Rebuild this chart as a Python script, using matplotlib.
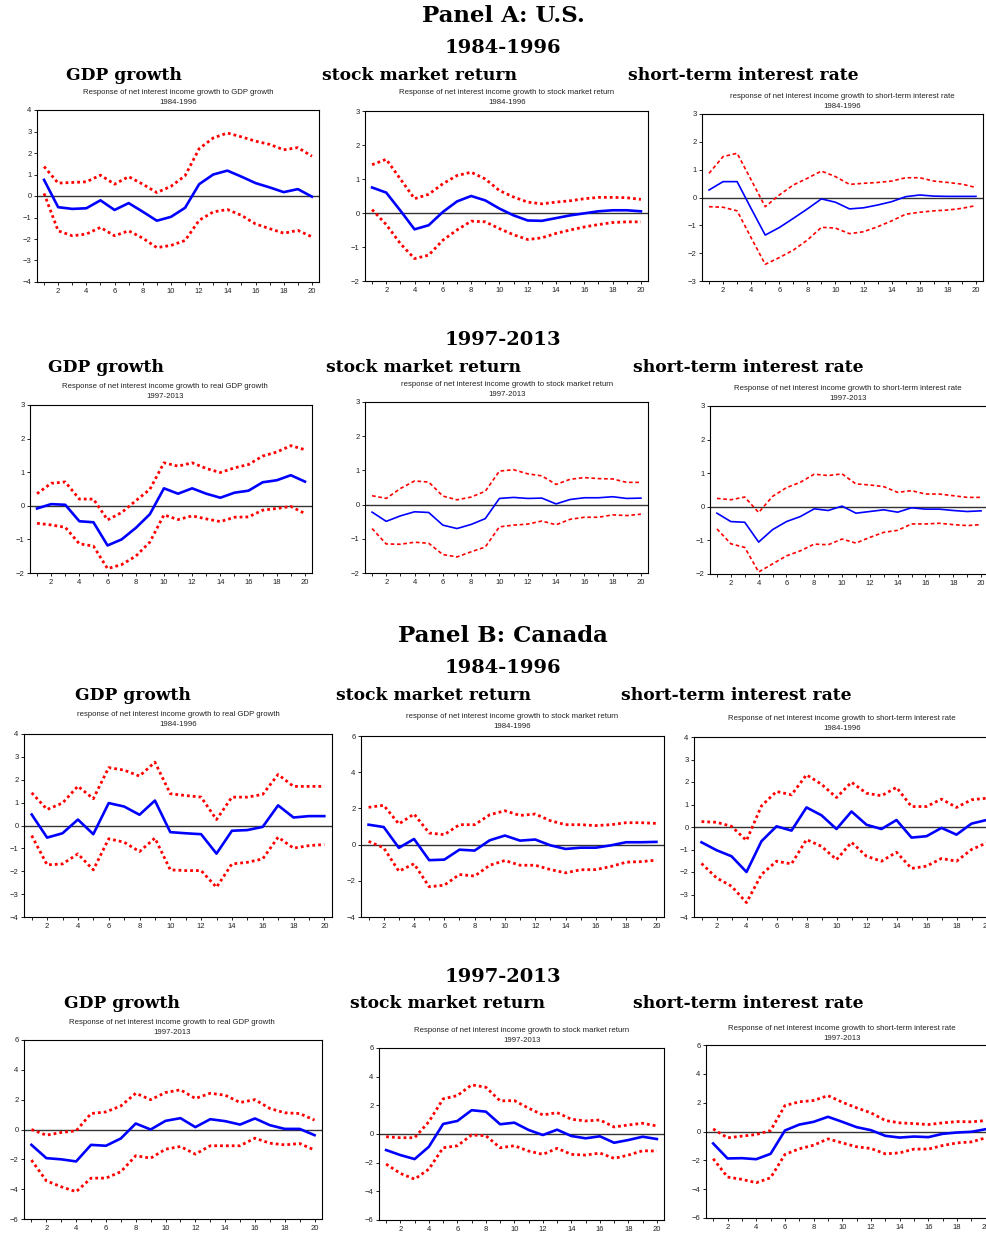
import matplotlib
matplotlib.use('Agg')
import numpy as np
from matplotlib import pyplot as plt
from matplotlib.ticker import MultipleLocator, FixedLocator

W, H = 986, 1233
horizon = list(range(1, 21))

# --- Panel A: U.S. 1984-1996
us84_gdp = [0.75, -0.52, -0.60, -0.57, -0.20, -0.65, -0.33, -0.73, -1.15, -0.97,
            -0.55, 0.55, 1.00, 1.18, 0.90, 0.60, 0.40, 0.18, 0.32, -0.03]
us84_gdp_hi = [1.37, 0.60, 0.63, 0.66, 0.97, 0.55, 0.90, 0.55, 0.16, 0.45,
               0.94, 2.20, 2.70, 2.93, 2.75, 2.55, 2.40, 2.15, 2.25, 1.85]
us84_gdp_lo = [0.12, -1.62, -1.85, -1.77, -1.46, -1.85, -1.62, -1.96, -2.40, -2.30,
               -2.07, -1.13, -0.74, -0.63, -0.90, -1.30, -1.52, -1.73, -1.60, -1.90]

us84_stk = [0.75, 0.60, 0.07, -0.48, -0.36, 0.03, 0.34, 0.50, 0.37, 0.13,
            -0.07, -0.22, -0.23, -0.15, -0.07, -0.01, 0.05, 0.08, 0.08, 0.05]
us84_stk_hi = [1.42, 1.58, 1.00, 0.42, 0.55, 0.86, 1.10, 1.20, 1.00, 0.66,
               0.47, 0.32, 0.27, 0.32, 0.36, 0.42, 0.46, 0.46, 0.45, 0.40]
us84_stk_lo = [0.10, -0.34, -0.90, -1.34, -1.24, -0.80, -0.50, -0.24, -0.26, -0.46,
               -0.64, -0.78, -0.73, -0.60, -0.50, -0.41, -0.34, -0.28, -0.26, -0.26]

us84_rate = [0.27, 0.57, 0.57, -0.40, -1.35, -1.08, -0.75, -0.41, -0.05, -0.17,
             -0.41, -0.37, -0.27, -0.15, 0.03, 0.09, 0.05, 0.04, 0.04, 0.04]
us84_rate_hi = [0.87, 1.47, 1.59, 0.63, -0.33, 0.09, 0.45, 0.69, 0.95, 0.75,
                0.47, 0.51, 0.54, 0.59, 0.71, 0.71, 0.59, 0.54, 0.48, 0.36]
us84_rate_lo = [-0.33, -0.35, -0.48, -1.45, -2.40, -2.16, -1.89, -1.53, -1.07, -1.10,
                -1.30, -1.23, -1.05, -0.84, -0.60, -0.53, -0.48, -0.45, -0.39, -0.29]

# --- Panel A: U.S. 1997-2013
us97_gdp = [-0.08, 0.05, 0.03, -0.46, -0.49, -1.18, -1.00, -0.66, -0.25, 0.52,
            0.36, 0.52, 0.36, 0.24, 0.39, 0.45, 0.70, 0.76, 0.91, 0.72]
us97_gdp_hi = [0.36, 0.67, 0.71, 0.20, 0.20, -0.42, -0.20, 0.15, 0.49, 1.28,
               1.18, 1.28, 1.11, 0.99, 1.13, 1.23, 1.48, 1.60, 1.79, 1.67]
us97_gdp_lo = [-0.52, -0.57, -0.64, -1.13, -1.20, -1.87, -1.75, -1.50, -1.08, -0.27,
               -0.41, -0.30, -0.39, -0.47, -0.34, -0.33, -0.13, -0.08, -0.02, -0.23]

us97_stk = [-0.22, -0.49, -0.33, -0.21, -0.23, -0.60, -0.70, -0.58, -0.41, 0.18,
            0.21, 0.18, 0.19, 0.02, 0.15, 0.20, 0.20, 0.23, 0.18, 0.19]
us97_stk_hi = [0.26, 0.18, 0.47, 0.69, 0.66, 0.25, 0.14, 0.22, 0.39, 0.98,
               1.02, 0.90, 0.84, 0.59, 0.74, 0.79, 0.76, 0.75, 0.65, 0.65]
us97_stk_lo = [-0.70, -1.15, -1.16, -1.10, -1.13, -1.46, -1.53, -1.38, -1.24, -0.65,
               -0.60, -0.57, -0.48, -0.59, -0.43, -0.37, -0.37, -0.30, -0.32, -0.28]

us97_rate = [-0.19, -0.44, -0.46, -1.05, -0.68, -0.44, -0.29, -0.06, -0.11, 0.02,
             -0.19, -0.14, -0.09, -0.16, -0.03, -0.07, -0.07, -0.11, -0.14, -0.12]
us97_rate_hi = [0.25, 0.21, 0.29, -0.17, 0.31, 0.57, 0.73, 0.97, 0.93, 0.98,
                0.68, 0.65, 0.60, 0.43, 0.48, 0.38, 0.38, 0.33, 0.28, 0.28]
us97_rate_lo = [-0.66, -1.10, -1.21, -1.94, -1.70, -1.46, -1.31, -1.11, -1.13, -0.96,
                -1.08, -0.91, -0.76, -0.70, -0.51, -0.51, -0.49, -0.53, -0.56, -0.53]

# --- Panel B: Canada 1984-1996
ca84_gdp = [0.48, -0.53, -0.34, 0.26, -0.38, 0.98, 0.83, 0.47, 1.09, -0.29,
            -0.34, -0.38, -1.23, -0.23, -0.20, -0.06, 0.88, 0.35, 0.41, 0.41]
ca84_gdp_hi = [1.43, 0.70, 0.98, 1.72, 1.17, 2.53, 2.42, 2.16, 2.77, 1.39,
               1.31, 1.24, 0.26, 1.24, 1.24, 1.36, 2.23, 1.71, 1.71, 1.71]
ca84_gdp_lo = [-0.44, -1.72, -1.68, -1.24, -1.94, -0.58, -0.73, -1.14, -0.55, -1.94,
               -1.97, -1.97, -2.70, -1.68, -1.61, -1.46, -0.51, -0.99, -0.88, -0.83]

ca84_stk = [1.10, 0.97, -0.18, 0.31, -0.86, -0.83, -0.28, -0.33, 0.24, 0.50,
            0.22, 0.28, -0.04, -0.24, -0.17, -0.17, -0.04, 0.13, 0.13, 0.15]
ca84_stk_hi = [2.06, 2.17, 1.14, 1.69, 0.64, 0.55, 1.10, 1.10, 1.65, 1.87,
               1.61, 1.69, 1.32, 1.10, 1.10, 1.05, 1.10, 1.21, 1.21, 1.17]
ca84_stk_lo = [0.18, -0.18, -1.47, -1.06, -2.33, -2.24, -1.65, -1.74, -1.14, -0.88,
               -1.14, -1.14, -1.38, -1.56, -1.39, -1.38, -1.21, -0.97, -0.94, -0.86]

ca84_rate = [-0.68, -1.03, -1.30, -2.00, -0.63, 0.03, -0.16, 0.87, 0.52, -0.09,
             0.69, 0.10, -0.09, 0.31, -0.47, -0.41, -0.04, -0.34, 0.15, 0.31]
ca84_rate_hi = [0.24, 0.21, 0.03, -0.60, 0.94, 1.58, 1.43, 2.32, 1.90, 1.31,
                1.99, 1.50, 1.39, 1.76, 0.91, 0.91, 1.24, 0.87, 1.21, 1.28]
ca84_rate_lo = [-1.62, -2.26, -2.63, -3.36, -2.11, -1.52, -1.64, -0.56, -0.86, -1.45,
                -0.68, -1.30, -1.52, -1.12, -1.84, -1.74, -1.40, -1.52, -1.00, -0.71]

# --- Panel B: Canada 1997-2013
ca97_gdp = [-1.03, -1.92, -2.00, -2.14, -1.03, -1.09, -0.60, 0.40, 0.00, 0.58,
            0.76, 0.16, 0.69, 0.56, 0.33, 0.74, 0.29, 0.04, 0.04, -0.38]
ca97_gdp_hi = [0.00, -0.38, -0.20, -0.09, 1.07, 1.18, 1.58, 2.43, 2.00, 2.48,
               2.66, 2.08, 2.43, 2.30, 1.81, 2.00, 1.41, 1.12, 1.07, 0.63]
ca97_gdp_lo = [-2.05, -3.44, -3.84, -4.17, -3.26, -3.26, -2.83, -1.76, -1.92, -1.32,
               -1.14, -1.65, -1.09, -1.09, -1.09, -0.58, -0.92, -1.03, -0.94, -1.38]

ca97_stk = [-1.12, -1.47, -1.75, -0.89, 0.70, 0.91, 1.66, 1.56, 0.68, 0.79,
            0.28, -0.07, 0.30, -0.14, -0.30, -0.16, -0.61, -0.42, -0.19, -0.35]
ca97_stk_hi = [-0.19, -0.26, -0.26, 0.86, 2.45, 2.68, 3.43, 3.26, 2.31, 2.33,
               1.80, 1.33, 1.49, 1.03, 0.91, 0.98, 0.49, 0.63, 0.75, 0.56]
ca97_stk_lo = [-2.10, -2.75, -3.15, -2.45, -0.96, -0.82, -0.07, -0.12, -0.96, -0.82,
               -1.19, -1.42, -1.00, -1.42, -1.47, -1.33, -1.70, -1.47, -1.17, -1.19]

ca97_rate = [-0.83, -1.87, -1.85, -1.92, -1.55, 0.07, 0.48, 0.67, 1.02, 0.67,
             0.30, 0.09, -0.30, -0.42, -0.35, -0.39, -0.16, -0.07, -0.02, 0.16]
ca97_rate_hi = [0.18, -0.44, -0.32, -0.21, 0.07, 1.80, 2.06, 2.15, 2.49, 2.03,
                1.64, 1.29, 0.76, 0.60, 0.55, 0.48, 0.60, 0.69, 0.67, 0.76]
ca97_rate_lo = [-1.89, -3.16, -3.32, -3.55, -3.21, -1.59, -1.20, -0.95, -0.51, -0.79,
                -1.06, -1.18, -1.55, -1.48, -1.22, -1.22, -0.97, -0.79, -0.72, -0.44]


fig = plt.figure(figsize=(W / 100, H / 100), dpi=100)
fig.patch.set_facecolor('white')

def fx(x):
    return x / W

def fy(y):
    return 1 - y / H

heading = dict(family='DejaVu Serif', weight='bold', ha='center', va='center', color='black')
small = dict(family='Liberation Sans', ha='center', va='center', color='#222222', fontsize=5.6)

# big headings
fig.text(fx(503), fy(16), 'Panel A: U.S.', fontsize=16.5, **heading)
fig.text(fx(503), fy(48), '1984-1996', fontsize=14, **heading)
fig.text(fx(503), fy(340), '1997-2013', fontsize=14, **heading)
fig.text(fx(503), fy(636), 'Panel B: Canada', fontsize=16.5, **heading)
fig.text(fx(503), fy(668), '1984-1996', fontsize=14, **heading)
fig.text(fx(503), fy(977), '1997-2013', fontsize=14, **heading)

col_heads = ['GDP growth', 'stock market return', 'short-term interest rate']
col_head_pos = [
    [(124, 75), (419, 75), (743, 75)],
    [(106, 367), (424, 367), (748, 367)],
    [(133, 696), (434, 696), (736, 696)],
    [(122, 1003), (447, 1003), (748, 1003)],
]
for row in col_head_pos:
    for txt, (x, y) in zip(col_heads, row):
        fig.text(fx(x), fy(y), txt, fontsize=12.3, **heading)

# panels: data, frame (left, top, right, bottom px), ylim, title, period, title pos, thin style
panels = [
    (us84_gdp, us84_gdp_hi, us84_gdp_lo, (37, 110, 319, 282), (-4, 4),
     'Response of net interest income growth to GDP growth', '1984-1996', (178, 92), False),
    (us84_stk, us84_stk_hi, us84_stk_lo, (365, 111, 648, 281), (-2, 3),
     'Response of net interest income growth to stock market return', '1984-1996', (507, 92), False),
    (us84_rate, us84_rate_hi, us84_rate_lo, (702, 114, 983, 281), (-3, 3),
     'response of net interest income growth to short-term interest rate', '1984-1996', (842, 97), True),
    (us97_gdp, us97_gdp_hi, us97_gdp_lo, (30, 405, 312, 573), (-2, 3),
     'Response of net interest income growth to real GDP growth', '1997-2013', (165, 387), False),
    (us97_stk, us97_stk_hi, us97_stk_lo, (365, 402, 648, 573), (-2, 3),
     'response of net interest income growth to stock market return', '1997-2013', (507, 385), True),
    (us97_rate, us97_rate_hi, us97_rate_lo, (710, 406, 988, 574), (-2, 3),
     'Response of net interest income growth to short-term interest rate', '1997-2013', (848, 389), True),
    (ca84_gdp, ca84_gdp_hi, ca84_gdp_lo, (24, 734, 332, 917), (-4, 4),
     'response of net interest income growth to real GDP growth', '1984-1996', (178, 714), False),
    (ca84_stk, ca84_stk_hi, ca84_stk_lo, (361, 736, 664, 917), (-4, 6),
     'response of net interest income growth to stock market return', '1984-1996', (512, 717), False),
    (ca84_rate, ca84_rate_hi, ca84_rate_lo, (694, 737, 994, 917), (-4, 4),
     'Response of net interest income growth to short-term interest rate', '1984-1996', (842, 718), False),
    (ca97_gdp, ca97_gdp_hi, ca97_gdp_lo, (24, 1040, 322, 1219), (-6, 6),
     'Response of net interest income growth to real GDP growth', '1997-2013', (172, 1022), False),
    (ca97_stk, ca97_stk_hi, ca97_stk_lo, (379, 1048, 664, 1220), (-6, 6),
     'Response of net interest income growth to stock market return', '1997-2013', (522, 1030), False),
    (ca97_rate, ca97_rate_hi, ca97_rate_lo, (706, 1045, 993, 1218), (-6, 6),
     'Response of net interest income growth to short-term interest rate', '1997-2013', (842, 1028), False),
]

for resp, hi, lo, (x0, y0, x1, y1), ylim, title, period, (tx, ty), thin in panels:
    ax = fig.add_axes([fx(x0), fy(y1), fx(x1) - fx(x0), (y1 - y0) / H])
    ax.axhline(0, color='#333333', lw=1.0, zorder=1)
    if thin:
        ax.plot(horizon, resp, color='#0000ff', lw=1.2, zorder=3)
        ax.plot(horizon, hi, color='#ff0000', lw=1.2, ls=(0, (2.2, 1.6)), zorder=2)
        ax.plot(horizon, lo, color='#ff0000', lw=1.2, ls=(0, (2.2, 1.6)), zorder=2)
    else:
        ax.plot(horizon, resp, color='#0000ff', lw=1.9, zorder=3)
        ax.plot(horizon, hi, color='#ff0000', lw=2.0, ls=(0, (1, 1.1)), zorder=2)
        ax.plot(horizon, lo, color='#ff0000', lw=2.0, ls=(0, (1, 1.1)), zorder=2)
    ax.set_xlim(0.5, 20.5)
    ax.set_ylim(*ylim)
    step = 2 if ylim[1] - ylim[0] >= 10 else 1
    ax.yaxis.set_major_locator(MultipleLocator(step))
    ax.xaxis.set_major_locator(FixedLocator(list(range(2, 21, 2))))
    ax.xaxis.set_minor_locator(FixedLocator(list(range(1, 21, 2))))
    ax.tick_params(axis='both', which='both', direction='out', length=2.5, width=0.7,
                   labelsize=5.5, pad=1.5, colors='#222222')
    ax.tick_params(axis='x', which='minor', length=2.5)
    for lab in ax.get_xticklabels() + ax.get_yticklabels():
        lab.set_family('Liberation Sans')
    for sp in ax.spines.values():
        sp.set_linewidth(0.8)
        sp.set_color('black')
    fig.text(fx(tx), fy(ty), title, **small)
    fig.text(fx(tx), fy(ty + 10), period, **small)

fig.savefig('out.png', dpi=100)
